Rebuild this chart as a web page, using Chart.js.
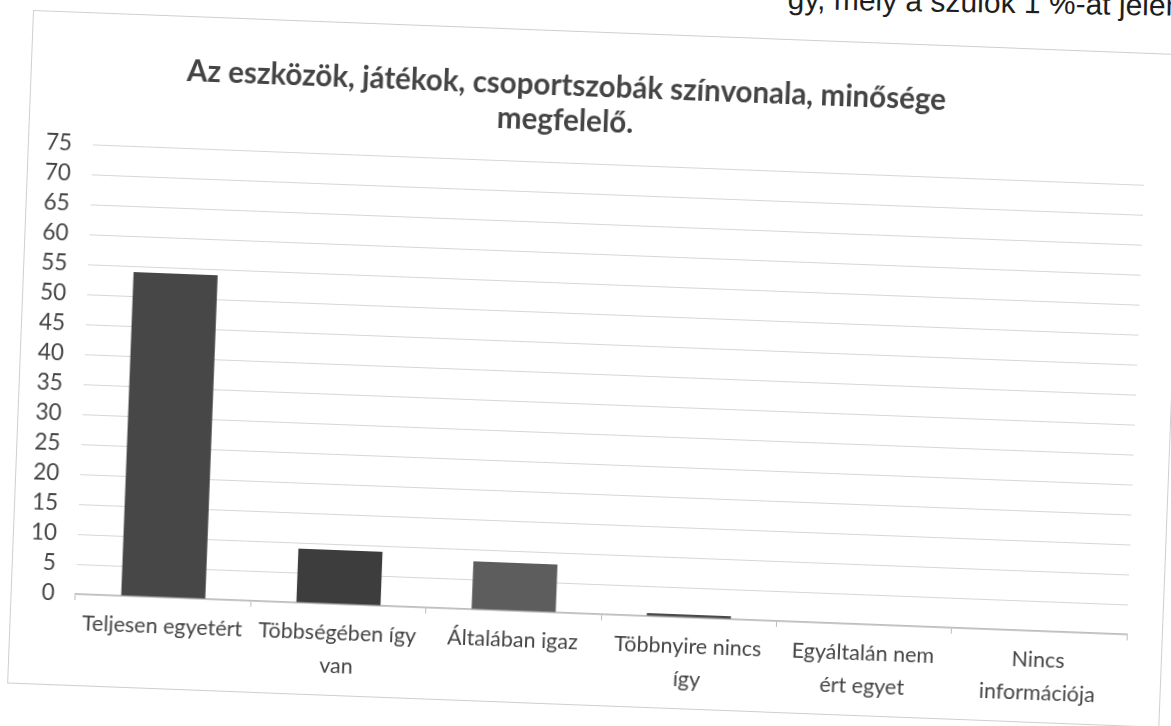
<!DOCTYPE html>
<html>
<head>
<meta charset="utf-8">
<script src="https://cdn.jsdelivr.net/npm/chart.js@4.4.1/dist/chart.umd.min.js"></script>
<style>
  html, body { margin: 0; padding: 0; background: #fff; overflow: hidden; }
  body { width: 1171px; height: 726px; position: relative; }
  #pageText {
    position: absolute; left: 788px; top: -16px; white-space: nowrap;
    font-family: "Liberation Sans", Arial, sans-serif; font-size: 30px; line-height: 30px; color: #1e1e1e;
    transform-origin: 0 0; transform: rotate(1deg);
  }
  #frame {
    position: absolute; left: 33px; top: 10px; width: 1153px; height: 674px;
    border: 1px solid #cfcfcf; box-sizing: border-box; background: #fff;
    transform-origin: 0 0; transform: rotate(2.2deg);
  }
  #title {
    position: absolute; left: 0; top: 35px; width: 1070px; text-align: center;
    font-family: Lato, sans-serif; font-weight: bold; font-size: 29.5px; line-height: 35px; color: #444444;
  }
  #chartWrap { position: absolute; left: 0; top: 0; width: 1151px; height: 672px; }
</style>
</head>
<body>
<div id="pageText">gy, mely a szülők 1 %-át jelenti.</div>
<div id="frame">
  <div id="chartWrap"><canvas id="chartSzinvonal"></canvas></div>
  <div id="title">Az eszközök, játékok, csoportszobák színvonala, minősége<br>megfelelő.</div>
</div>

<script>
// adatok
const kategoriak = [
    ["Teljesen egyetért"],
    ["Többségében így", "van"],
    ["Általában igaz"],
    ["Többnyire nincs", "így"],
    ["Egyáltalán nem", "ért egyet"],
    ["Nincs", "információja"]
];
const valaszok = [54, 9, 8, 0.5, 0, 0];
const oszlopSzinek = ["#474747", "#3d3d3d", "#5d5d5d", "#4a4a4a", "#666666", "#777777"];
const yMin = 0;
const yMax = 75;
const yLepes = 5;

const canvas = document.getElementById("chartSzinvonal");

if (canvas) {
    new Chart(canvas, {
        type: "bar",
        data: {
            labels: kategoriak,
            datasets: [{
                data: valaszok,
                backgroundColor: oszlopSzinek,
                categoryPercentage: 1,
                barPercentage: 0.48
            }]
        },
        options: {
            responsive: true,
            maintainAspectRatio: false,
            animation: false,
            layout: { padding: { top: 131, right: 35, left: 0, bottom: 0 } },
            plugins: {
                legend: { display: false },
                tooltip: { enabled: false }
            },
            scales: {
                x: {
                    afterFit: (s) => { s.height = 91; },
                    grid: {
                        drawOnChartArea: false,
                        drawTicks: true,
                        tickLength: 6,
                        color: "#bdbdbd"
                    },
                    border: { color: "#bdbdbd", width: 1.5 },
                    ticks: {
                        color: "#454545",
                        padding: 6,
                        maxRotation: 0,
                        autoSkip: false,
                        font: { family: "Lato", size: 21.5, lineHeight: 1.55 }
                    }
                },
                y: {
                    min: yMin,
                    max: yMax,
                    afterFit: (s) => { s.width = 64; },
                    grid: { color: "#d6d6d6", drawTicks: false },
                    border: { display: false },
                    ticks: {
                        stepSize: yLepes,
                        color: "#454545",
                        padding: 21,
                        font: { family: "Lato", size: 22.5 }
                    }
                }
            }
        }
    });
}
</script>
</body>
</html>
